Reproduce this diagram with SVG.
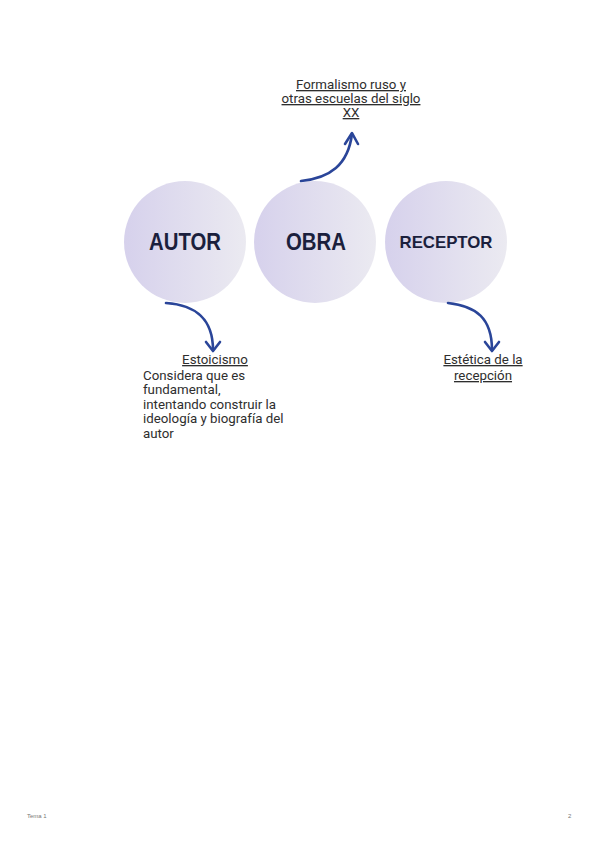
<svg xmlns="http://www.w3.org/2000/svg" width="600" height="848" viewBox="0 0 600 848">
<style>
.lbl{font-family:"Roboto","Liberation Sans",sans-serif;font-size:13.3px;fill:#2e2e2e}
.u{text-decoration:underline}
.node{font-family:"Liberation Sans","Arial",sans-serif;font-weight:bold;fill:#1b1f3d;text-anchor:middle}
.arr{fill:none;stroke:#2a4599;stroke-width:2.6;stroke-linecap:round;stroke-linejoin:round}
.foot{font-family:"Liberation Sans",sans-serif;font-size:6px;fill:#777}
</style>
<defs>
<linearGradient id="g" x1="0" y1="0" x2="1" y2="0">
<stop offset="0" stop-color="#d6d1ec"/>
<stop offset="1" stop-color="#ebeaf1"/>
</linearGradient>
</defs>
<rect width="600" height="848" fill="#ffffff"/>
<g id="autor">
<circle cx="185" cy="242" r="61" fill="url(#g)"/>
<text class="node" x="185" y="250" font-size="23" textLength="72" lengthAdjust="spacingAndGlyphs">AUTOR</text>
</g>
<g id="obra">
<circle cx="315" cy="242" r="61" fill="url(#g)"/>
<text class="node" x="316" y="250" font-size="23" textLength="60" lengthAdjust="spacingAndGlyphs">OBRA</text>
</g>
<g id="receptor">
<circle cx="446" cy="242" r="61" fill="url(#g)"/>
<text class="node" x="446" y="248" font-size="17" textLength="93" lengthAdjust="spacingAndGlyphs">RECEPTOR</text>
</g>
<g id="connectors">
<path class="arr" d="M301 181 C330 178 348 165 352 134"/>
<path class="arr" d="M345 144 L352 133 L358 144"/>
<path class="arr" d="M166 303 C195 305 213 318 213 350"/>
<path class="arr" d="M206 342 L213 351 L220 342"/>
<path class="arr" d="M448 303 C476 306 492 318 492 350"/>
<path class="arr" d="M485 342 L492 351 L499 342"/>
</g>
<g id="formalismo">
<text class="lbl u" text-anchor="middle" x="351" y="89">Formalismo ruso y</text>
<text class="lbl u" text-anchor="middle" x="351" y="103">otras escuelas del siglo</text>
<text class="lbl u" text-anchor="middle" x="351" y="117">XX</text>
</g>
<g id="estoicismo">
<text class="lbl u" text-anchor="middle" x="215" y="364">Estoicismo</text>
<text class="lbl" x="143" y="380">Considera que es</text>
<text class="lbl" x="143" y="394">fundamental,</text>
<text class="lbl" x="143" y="409">intentando construir la</text>
<text class="lbl" x="143" y="423">ideología y biografía del</text>
<text class="lbl" x="143" y="438">autor</text>
</g>
<g id="estetica">
<text class="lbl u" text-anchor="middle" x="483" y="364">Estética de la</text>
<text class="lbl u" text-anchor="middle" x="483" y="380">recepción</text>
</g>
<text class="foot" x="27" y="818">Tema 1</text>
<text class="foot" x="568" y="818">2</text>
</svg>
